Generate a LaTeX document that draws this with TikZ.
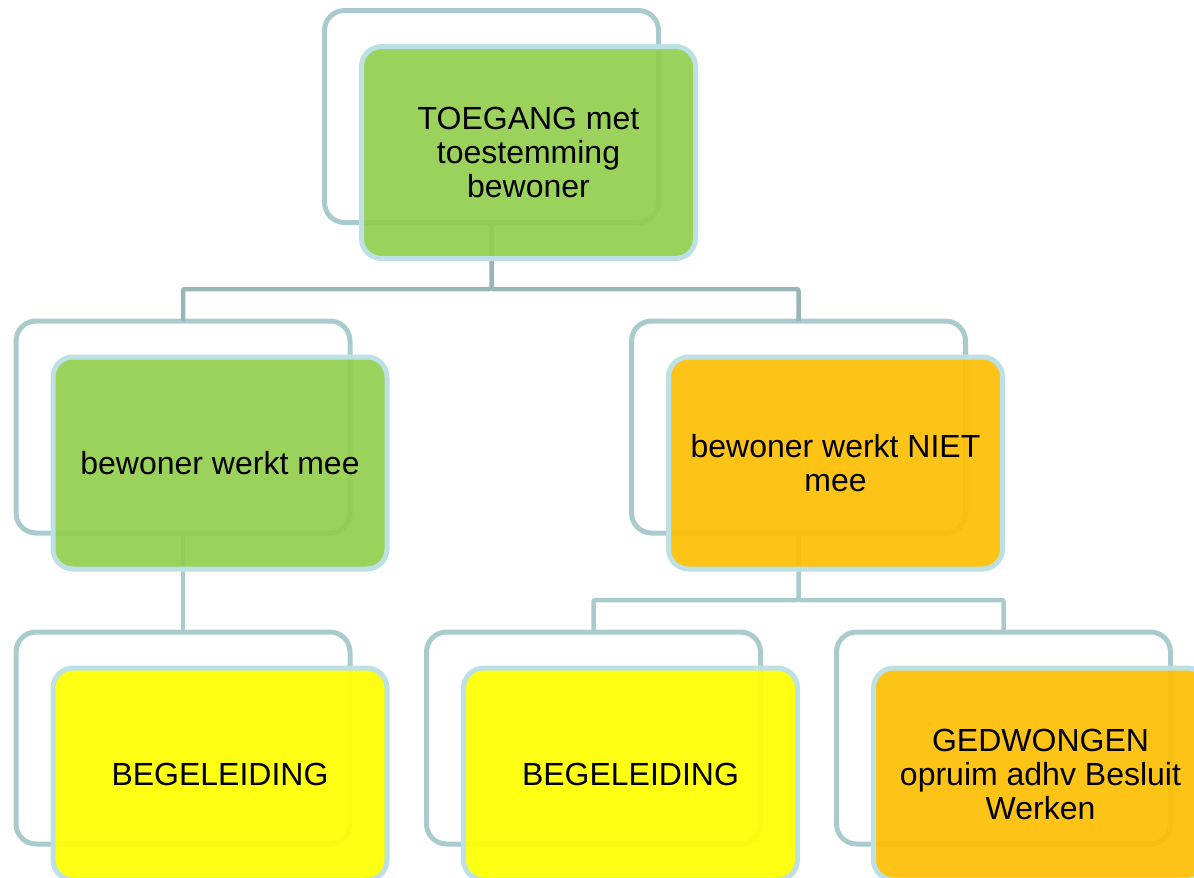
\documentclass[tikz,border=0pt]{standalone}
\usepackage{fontspec}
\setmainfont{Liberation Sans}
\definecolor{frameline}{HTML}{A9CBCE}
\definecolor{topconn}{HTML}{98B5B8}
\definecolor{boxline}{HTML}{BCE0E4}
\definecolor{fgreen}{RGB}{146,206,77}
\definecolor{fyellow}{RGB}{255,255,0}
\definecolor{forange}{RGB}{253,190,3}
\tikzset{
  backframe/.style={draw=frameline, line width=5pt, rounded corners=20pt, fill=none,
    minimum width=334pt, minimum height=212pt, inner sep=0pt, outer sep=0pt},
  frontbox/.style={draw=boxline, line width=5pt, rounded corners=20pt, fill opacity=0.92,
    text opacity=1, minimum width=334pt, minimum height=212pt, inner sep=0pt, outer sep=0pt,
    align=center, font=\fontsize{32}{34}\selectfont, text=black},
  conn/.style={draw=frameline, line width=4.5pt, rounded corners=2pt},
  topconnector/.style={draw=topconn, line width=4.5pt, rounded corners=2pt}
}
\begin{document}
\begin{tikzpicture}[x=1pt,y=-1pt]
\useasboundingbox (0,0) rectangle (1194,878);
\clip (0,0) rectangle (1194,878);
% back frames
\node[backframe] (bA) at (491.5,116.5) {};
\node[backframe] (bB) at (183,427) {};
\node[backframe] (bC) at (798.5,427) {};
\node[backframe] (bD) at (183,738) {};
\node[backframe] (bE) at (593.5,738) {};
\node[backframe] (bF) at (1003.5,738) {};
% junctions
\coordinate (j1) at (491.5,289);
\coordinate (j2) at (798.5,600);
% connectors
\draw[topconnector] (bA.south) -- (j1) -| (bB.north);
\draw[topconnector] (j1) -| (bC.north);
\draw[conn] (bB.south) -- (bD.north);
\draw[conn] (bC.south) -- (j2) -| (bE.north);
\draw[conn] (j2) -| (bF.north);
% front boxes
\node[frontbox, fill=fgreen] (fA) at (528.5,152.5) {TOEGANG met\\toestemming\\bewoner};
\node[frontbox, fill=fgreen] (fB) at (220,463) {bewoner werkt mee};
\node[frontbox, fill=forange] (fC) at (835.5,463) {bewoner werkt NIET\\mee};
\node[frontbox, fill=fyellow] (fD) at (220,774) {BEGELEIDING};
\node[frontbox, fill=fyellow] (fE) at (630.5,774) {BEGELEIDING};
\node[frontbox, fill=forange] (fF) at (1040.5,774) {GEDWONGEN\\opruim adhv Besluit\\Werken};
\end{tikzpicture}
\end{document}
